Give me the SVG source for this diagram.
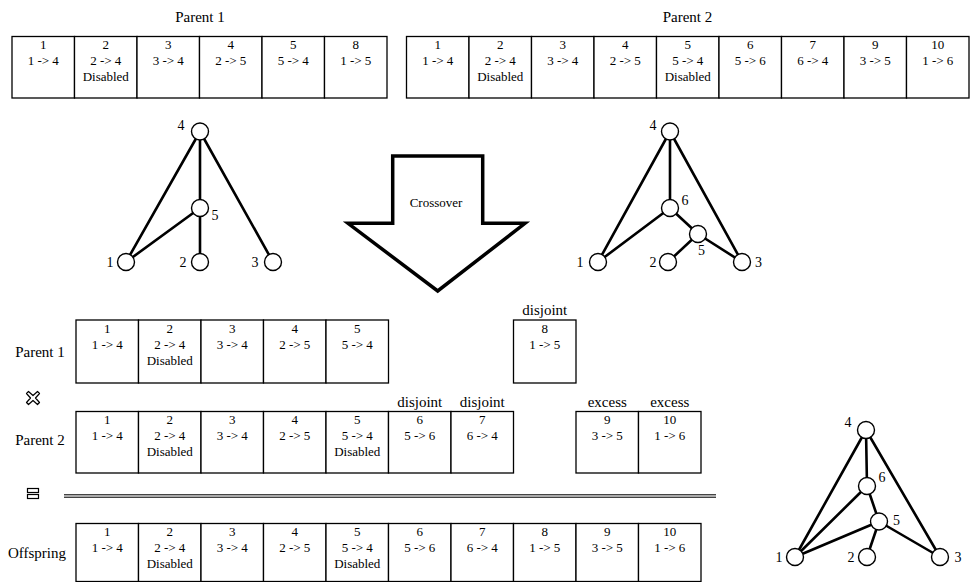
<svg xmlns="http://www.w3.org/2000/svg" width="970" height="582" viewBox="0 0 970 582">
<style>
.c{fill:#fff;stroke:#000;stroke-width:1.3}
.t{font-family:"Liberation Serif",serif;font-size:13px;fill:#000;text-anchor:middle}
.l{font-family:"Liberation Serif",serif;font-size:15px;fill:#000;text-anchor:middle}
.e{stroke:#000;stroke-width:2.6;stroke-linecap:round;fill:none}
.n{fill:#fff;stroke:#000;stroke-width:1.4}
.nl{font-family:"Liberation Serif",serif;font-size:14px;fill:#000;text-anchor:middle}
</style>
<rect width="970" height="582" fill="#fff"/>

<!-- Top Parent 1 genome -->
<g id="top-parent1">
<text class="l" x="200" y="22">Parent 1</text>
<rect class="c" x="12" y="36.5" width="62.5" height="61.5"/>
<rect class="c" x="74.5" y="36.5" width="62.5" height="61.5"/>
<rect class="c" x="137" y="36.5" width="62.5" height="61.5"/>
<rect class="c" x="199.5" y="36.5" width="62.5" height="61.5"/>
<rect class="c" x="262" y="36.5" width="62.5" height="61.5"/>
<rect class="c" x="324.5" y="36.5" width="62.5" height="61.5"/>
<text class="t" x="43.25" y="49">1</text><text class="t" x="43.25" y="65">1 -&gt; 4</text>
<text class="t" x="105.75" y="49">2</text><text class="t" x="105.75" y="65">2 -&gt; 4</text><text class="t" x="105.75" y="81">Disabled</text>
<text class="t" x="168.25" y="49">3</text><text class="t" x="168.25" y="65">3 -&gt; 4</text>
<text class="t" x="230.75" y="49">4</text><text class="t" x="230.75" y="65">2 -&gt; 5</text>
<text class="t" x="293.25" y="49">5</text><text class="t" x="293.25" y="65">5 -&gt; 4</text>
<text class="t" x="355.75" y="49">8</text><text class="t" x="355.75" y="65">1 -&gt; 5</text>
</g>

<!-- Top Parent 2 genome -->
<g id="top-parent2">
<text class="l" x="687.5" y="22">Parent 2</text>
<rect class="c" x="406.5" y="36.5" width="62.5" height="61.5"/>
<rect class="c" x="469" y="36.5" width="62.5" height="61.5"/>
<rect class="c" x="531.5" y="36.5" width="62.5" height="61.5"/>
<rect class="c" x="594" y="36.5" width="62.5" height="61.5"/>
<rect class="c" x="656.5" y="36.5" width="62.5" height="61.5"/>
<rect class="c" x="719" y="36.5" width="62.5" height="61.5"/>
<rect class="c" x="781.5" y="36.5" width="62.5" height="61.5"/>
<rect class="c" x="844" y="36.5" width="62.5" height="61.5"/>
<rect class="c" x="906.5" y="36.5" width="62.5" height="61.5"/>
<text class="t" x="437.75" y="49">1</text><text class="t" x="437.75" y="65">1 -&gt; 4</text>
<text class="t" x="500.25" y="49">2</text><text class="t" x="500.25" y="65">2 -&gt; 4</text><text class="t" x="500.25" y="81">Disabled</text>
<text class="t" x="562.75" y="49">3</text><text class="t" x="562.75" y="65">3 -&gt; 4</text>
<text class="t" x="625.25" y="49">4</text><text class="t" x="625.25" y="65">2 -&gt; 5</text>
<text class="t" x="687.75" y="49">5</text><text class="t" x="687.75" y="65">5 -&gt; 4</text><text class="t" x="687.75" y="81">Disabled</text>
<text class="t" x="750.25" y="49">6</text><text class="t" x="750.25" y="65">5 -&gt; 6</text>
<text class="t" x="812.75" y="49">7</text><text class="t" x="812.75" y="65">6 -&gt; 4</text>
<text class="t" x="875.25" y="49">9</text><text class="t" x="875.25" y="65">3 -&gt; 5</text>
<text class="t" x="937.75" y="49">10</text><text class="t" x="937.75" y="65">1 -&gt; 6</text>
</g>

<!-- Connectors -->
<g id="connectors">
<line class="e" x1="200" y1="131.5" x2="126" y2="262"/>
<line class="e" x1="200" y1="131.5" x2="200" y2="208"/>
<line class="e" x1="200" y1="131.5" x2="273" y2="262"/>
<line class="e" x1="200" y1="208" x2="126" y2="262"/>
<line class="e" x1="200" y1="208" x2="200" y2="262"/>

<line class="e" x1="670" y1="131.5" x2="598" y2="262"/>
<line class="e" x1="670" y1="131.5" x2="670" y2="208"/>
<line class="e" x1="670" y1="131.5" x2="742" y2="262"/>
<line class="e" x1="670" y1="208" x2="598" y2="262"/>
<line class="e" x1="670" y1="208" x2="698" y2="234"/>
<line class="e" x1="698" y1="234" x2="668" y2="262"/>
<line class="e" x1="698" y1="234" x2="742" y2="262"/>

<line class="e" x1="866" y1="430" x2="795" y2="557"/>
<line class="e" x1="866" y1="430" x2="867" y2="486"/>
<line class="e" x1="866" y1="430" x2="940" y2="557"/>
<line class="e" x1="867" y1="486" x2="795" y2="557"/>
<line class="e" x1="867" y1="486" x2="879" y2="521.5"/>
<line class="e" x1="879" y1="521.5" x2="795" y2="557"/>
<line class="e" x1="879" y1="521.5" x2="867" y2="557"/>
<line class="e" x1="879" y1="521.5" x2="940" y2="557"/>
</g>

<!-- Parent 1 graph nodes -->
<g id="p1-n4"><circle class="n" cx="200" cy="131.5" r="8.5"/><text class="nl" x="181" y="130">4</text></g>
<g id="p1-n5"><circle class="n" cx="200" cy="208" r="8.5"/><text class="nl" x="215" y="220">5</text></g>
<g id="p1-n1"><circle class="n" cx="126" cy="262" r="8.5"/><text class="nl" x="110" y="267">1</text></g>
<g id="p1-n2"><circle class="n" cx="200" cy="262" r="8.5"/><text class="nl" x="183" y="267">2</text></g>
<g id="p1-n3"><circle class="n" cx="273" cy="262" r="8.5"/><text class="nl" x="255" y="267">3</text></g>

<!-- Parent 2 graph nodes -->
<g id="p2-n4"><circle class="n" cx="670" cy="131.5" r="8.5"/><text class="nl" x="653" y="130">4</text></g>
<g id="p2-n6"><circle class="n" cx="670" cy="208" r="8.5"/><text class="nl" x="685" y="205">6</text></g>
<g id="p2-n5"><circle class="n" cx="698" cy="234" r="8.5"/><text class="nl" x="701.5" y="255">5</text></g>
<g id="p2-n1"><circle class="n" cx="598" cy="262" r="8.5"/><text class="nl" x="580" y="267">1</text></g>
<g id="p2-n2"><circle class="n" cx="668" cy="262" r="8.5"/><text class="nl" x="653" y="267">2</text></g>
<g id="p2-n3"><circle class="n" cx="742" cy="262" r="8.5"/><text class="nl" x="758.5" y="267">3</text></g>

<!-- Crossover arrow -->
<g id="crossover-arrow">
<polygon points="392.7,156 482.7,156 482.7,223.3 525,223.3 437.7,291 348,223.3 392.7,223.3" fill="#fff" stroke="#000" stroke-width="3.5" stroke-linejoin="miter"/>
<text class="t" x="436" y="207">Crossover</text>
</g>

<!-- Lower Parent 1 -->
<g id="low-parent1">
<text class="l" x="40" y="357">Parent 1</text>
<rect class="c" x="76" y="320" width="62.5" height="63"/>
<rect class="c" x="138.5" y="320" width="62.5" height="63"/>
<rect class="c" x="201" y="320" width="62.5" height="63"/>
<rect class="c" x="263.5" y="320" width="62.5" height="63"/>
<rect class="c" x="326" y="320" width="62.5" height="63"/>
<text class="t" x="107.25" y="332.5">1</text><text class="t" x="107.25" y="348.5">1 -&gt; 4</text>
<text class="t" x="169.75" y="332.5">2</text><text class="t" x="169.75" y="348.5">2 -&gt; 4</text><text class="t" x="169.75" y="364.5">Disabled</text>
<text class="t" x="232.25" y="332.5">3</text><text class="t" x="232.25" y="348.5">3 -&gt; 4</text>
<text class="t" x="294.75" y="332.5">4</text><text class="t" x="294.75" y="348.5">2 -&gt; 5</text>
<text class="t" x="357.25" y="332.5">5</text><text class="t" x="357.25" y="348.5">5 -&gt; 4</text>
</g>
<g id="low-parent1-disjoint">
<text class="l" x="544.75" y="315">disjoint</text>
<rect class="c" x="513.5" y="320" width="62.5" height="63"/>
<text class="t" x="544.75" y="332.5">8</text><text class="t" x="544.75" y="348.5">1 -&gt; 5</text>
</g>

<!-- cross icon -->
<g id="cross-icon">
<path d="M28.5,391.5 L33,395.5 L37.5,391.5 L39.5,393.5 L35.5,398 L39.5,402.5 L37.5,404.5 L33,400.5 L28.5,404.5 L26.5,402.5 L30.5,398 L26.5,393.5 Z" fill="#fff" stroke="#000" stroke-width="1.2" stroke-linejoin="round"/>
</g>

<!-- Lower Parent 2 -->
<g id="low-parent2">
<text class="l" x="40" y="445">Parent 2</text>
<rect class="c" x="76" y="411.5" width="62.5" height="61.5"/>
<rect class="c" x="138.5" y="411.5" width="62.5" height="61.5"/>
<rect class="c" x="201" y="411.5" width="62.5" height="61.5"/>
<rect class="c" x="263.5" y="411.5" width="62.5" height="61.5"/>
<rect class="c" x="326" y="411.5" width="62.5" height="61.5"/>
<rect class="c" x="388.5" y="411.5" width="62.5" height="61.5"/>
<rect class="c" x="451" y="411.5" width="62.5" height="61.5"/>
<text class="t" x="107.25" y="424">1</text><text class="t" x="107.25" y="440">1 -&gt; 4</text>
<text class="t" x="169.75" y="424">2</text><text class="t" x="169.75" y="440">2 -&gt; 4</text><text class="t" x="169.75" y="456">Disabled</text>
<text class="t" x="232.25" y="424">3</text><text class="t" x="232.25" y="440">3 -&gt; 4</text>
<text class="t" x="294.75" y="424">4</text><text class="t" x="294.75" y="440">2 -&gt; 5</text>
<text class="t" x="357.25" y="424">5</text><text class="t" x="357.25" y="440">5 -&gt; 4</text><text class="t" x="357.25" y="456">Disabled</text>
<text class="l" x="419.75" y="406.5">disjoint</text>
<text class="t" x="419.75" y="424">6</text><text class="t" x="419.75" y="440">5 -&gt; 6</text>
<text class="l" x="482.25" y="406.5">disjoint</text>
<text class="t" x="482.25" y="424">7</text><text class="t" x="482.25" y="440">6 -&gt; 4</text>
</g>
<g id="low-parent2-excess">
<rect class="c" x="576" y="411.5" width="62.5" height="61.5"/>
<rect class="c" x="638.5" y="411.5" width="62.5" height="61.5"/>
<text class="l" x="607.25" y="406.5">excess</text>
<text class="t" x="607.25" y="424">9</text><text class="t" x="607.25" y="440">3 -&gt; 5</text>
<text class="l" x="669.75" y="406.5">excess</text>
<text class="t" x="669.75" y="424">10</text><text class="t" x="669.75" y="440">1 -&gt; 6</text>
</g>

<!-- equals icon and double line -->
<g id="equals-icon">
<rect x="27.5" y="488.5" width="11" height="4" fill="#fff" stroke="#000" stroke-width="1.2"/>
<rect x="27.5" y="494.5" width="11" height="4" fill="#fff" stroke="#000" stroke-width="1.2"/>
</g>
<g id="divider">
<rect x="64" y="494" width="652" height="4" fill="#aaa"/>
<line x1="64" y1="494.5" x2="716" y2="494.5" stroke="#444" stroke-width="1"/>
<line x1="64" y1="497.5" x2="716" y2="497.5" stroke="#444" stroke-width="1"/>
</g>

<!-- Offspring -->
<g id="offspring">
<text class="l" x="37" y="558">Offspring</text>
<rect class="c" x="76" y="523.5" width="62.5" height="58"/>
<rect class="c" x="138.5" y="523.5" width="62.5" height="58"/>
<rect class="c" x="201" y="523.5" width="62.5" height="58"/>
<rect class="c" x="263.5" y="523.5" width="62.5" height="58"/>
<rect class="c" x="326" y="523.5" width="62.5" height="58"/>
<rect class="c" x="388.5" y="523.5" width="62.5" height="58"/>
<rect class="c" x="451" y="523.5" width="62.5" height="58"/>
<rect class="c" x="513.5" y="523.5" width="62.5" height="58"/>
<rect class="c" x="576" y="523.5" width="62.5" height="58"/>
<rect class="c" x="638.5" y="523.5" width="62.5" height="58"/>
<text class="t" x="107.25" y="536">1</text><text class="t" x="107.25" y="552">1 -&gt; 4</text>
<text class="t" x="169.75" y="536">2</text><text class="t" x="169.75" y="552">2 -&gt; 4</text><text class="t" x="169.75" y="568">Disabled</text>
<text class="t" x="232.25" y="536">3</text><text class="t" x="232.25" y="552">3 -&gt; 4</text>
<text class="t" x="294.75" y="536">4</text><text class="t" x="294.75" y="552">2 -&gt; 5</text>
<text class="t" x="357.25" y="536">5</text><text class="t" x="357.25" y="552">5 -&gt; 4</text><text class="t" x="357.25" y="568">Disabled</text>
<text class="t" x="419.75" y="536">6</text><text class="t" x="419.75" y="552">5 -&gt; 6</text>
<text class="t" x="482.25" y="536">7</text><text class="t" x="482.25" y="552">6 -&gt; 4</text>
<text class="t" x="544.75" y="536">8</text><text class="t" x="544.75" y="552">1 -&gt; 5</text>
<text class="t" x="607.25" y="536">9</text><text class="t" x="607.25" y="552">3 -&gt; 5</text>
<text class="t" x="669.75" y="536">10</text><text class="t" x="669.75" y="552">1 -&gt; 6</text>
</g>

<!-- Offspring graph nodes -->
<g id="o-n4"><circle class="n" cx="866" cy="430" r="8.5"/><text class="nl" x="848" y="427">4</text></g>
<g id="o-n6"><circle class="n" cx="867" cy="486" r="8.5"/><text class="nl" x="882" y="482">6</text></g>
<g id="o-n5"><circle class="n" cx="879" cy="521.5" r="8.5"/><text class="nl" x="896.5" y="525">5</text></g>
<g id="o-n1"><circle class="n" cx="795" cy="557" r="8.5"/><text class="nl" x="779" y="562">1</text></g>
<g id="o-n2"><circle class="n" cx="867" cy="557" r="8.5"/><text class="nl" x="851" y="562">2</text></g>
<g id="o-n3"><circle class="n" cx="940" cy="557" r="8.5"/><text class="nl" x="958" y="562">3</text></g>
</svg>
